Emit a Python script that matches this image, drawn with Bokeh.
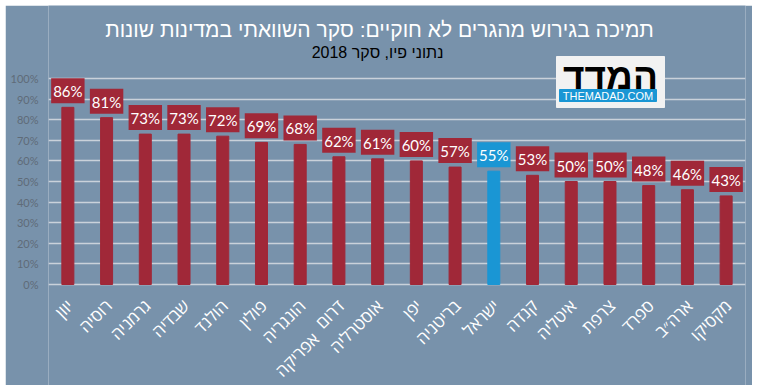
import math
from bokeh.plotting import figure
from bokeh.models import ColumnDataSource, FixedTicker, Range1d, FactorRange, Label, PrintfTickFormatter
from bokeh.core.properties import value
from bokeh.embed import file_html
from bokeh.resources import INLINE

# ---- data ----
countries = ["יוון", "רוסיה", "גרמניה", "שבדיה", "הולנד", "פולין", "הונגריה",
             "דרום אפריקה", "אוסטרליה", "יפן", "בריטניה", "ישראל", "קנדה",
             "איטליה", "צרפת", "ספרד", "ארה״ב", "מקסיקו"]
support = [86, 81, 73, 73, 72, 69, 68, 62, 61, 60, 57, 55, 53, 50, 50, 48, 46, 43]
highlight = "ישראל"
y_ticks = [0, 10, 20, 30, 40, 50, 60, 70, 80, 90, 100]

title_text = "תמיכה בגירוש מהגרים לא חוקיים: סקר השוואתי במדינות שונות"
subtitle_text = "נתוני פיו, סקר 2018"
logo_text = "המדד"
logo_url = "THEMADAD.COM"

# ---- styles / layout ----
BG = "#7892ab"
RED = "#a02838"
BLUE = "#1a96d4"
GRID = "#c9d1da"

FX, FY = 5, 5            # figure position on the page (via margin)
W, H = 747, 380
FRAME_L, FRAME_R = 48, 745   # page px of frame edges
ZERO_Y = 284                 # page px of 0%
PX_PER_PCT = 2.06
ML = FRAME_L - FX
MR = FX + W - FRAME_R
cat_w = (FRAME_R - FRAME_L) / len(countries)
y_start = -(FY + H - ZERO_Y) / PX_PER_PCT
y_end = (ZERO_Y - FY) / PX_PER_PCT

def dx(px):
    return (px - FRAME_L) / cat_w

def dy(py):
    return (ZERO_Y - py) / PX_PER_PCT

colors = [BLUE if c == highlight else RED for c in countries]
labels = [f"{v}%" for v in support]
line1 = [c.split(" ")[0] for c in countries]
zeros = [0] * len(countries)

src = ColumnDataSource(dict(country=countries, support=support, color=colors,
                            label=labels, line1=line1, zero=zeros))
two = [(c, " ".join(c.split(" ")[1:])) for c in countries if " " in c]
src2 = ColumnDataSource(dict(country=[t[0] for t in two], line2=[t[1] for t in two],
                             zero=[0] * len(two)))

def subset(keep):
    idx = [i for i, c in enumerate(countries) if keep(c)]
    return ColumnDataSource(dict(country=[countries[i] for i in idx],
                                 support=[support[i] for i in idx],
                                 label=[labels[i] for i in idx]))

red_src = subset(lambda c: c != highlight)
blue_src = subset(lambda c: c == highlight)

p = figure(width=W, height=H, x_range=FactorRange(factors=countries),
           y_range=Range1d(y_start, y_end), output_backend="svg", toolbar_location=None,
           min_border_left=ML, min_border_right=MR, min_border_top=0, min_border_bottom=0)
p.margin = (FY, 6, 7, FX)
p.background_fill_color = BG
p.border_fill_color = BG
p.outline_line_color = None

p.xaxis.visible = False
p.xgrid.grid_line_color = None
p.ygrid.grid_line_color = GRID
p.ygrid.grid_line_width = 1.5
p.yaxis.ticker = FixedTicker(ticks=y_ticks)
p.yaxis.formatter = PrintfTickFormatter(format="%d%%")
p.yaxis.axis_line_color = None
p.yaxis.major_tick_line_color = None
p.yaxis.minor_tick_line_color = None
p.yaxis.major_tick_out = 0
p.yaxis.major_tick_in = 0
p.yaxis.major_label_standoff = 10
p.yaxis.major_label_text_color = "#5f6b78"
p.yaxis.major_label_text_font = "Lato"
p.yaxis.major_label_text_font_size = "11px"

p.vbar(x="country", top="support", width=0.31, color="color", source=src)

# value labels in boxes
for s, c in ((red_src, RED), (blue_src, BLUE)):
    p.text(x="country", y="support", text="label", source=s,
           text_align="center", text_baseline="bottom", y_offset=-4,
           text_color="white", text_font=value("Lato"), text_font_size="15px",
           background_fill_color=c,
           padding=dict(left=2, right=2, top=4, bottom=3))

# category labels (rotated)
p.text(x="country", y="zero", text="line1", source=src, angle=math.pi / 4,
       text_align="right", text_baseline="middle", x_offset=2, y_offset=18,
       text_color="white", text_font=value("Open Sans"), text_font_size="17px")
p.text(x="country", y="zero", text="line2", source=src2, angle=math.pi / 4,
       text_align="right", text_baseline="middle", x_offset=-23, y_offset=51,
       text_color="white", text_font=value("Open Sans"), text_font_size="17px")

# title & subtitle
p.add_layout(Label(x=dx(379), y=dy(29), text=title_text, text_align="center",
                   text_baseline="alphabetic", text_color="white",
                   text_font="Liberation Sans", text_font_size="21px"))
p.add_layout(Label(x=dx(377), y=dy(52), text=subtitle_text, text_align="center",
                   text_baseline="alphabetic", text_color="black",
                   text_font="Liberation Sans", text_font_size="16px"))

# logo
p.quad(left=dx(556), right=dx(664), top=dy(56), bottom=dy(107), color="#f2f2f2")
p.quad(left=dx(559), right=dx(656), top=dy(89), bottom=dy(101), color=BLUE)
p.add_layout(Label(x=dx(610), y=dy(76), text=logo_text, text_align="center",
                   text_baseline="alphabetic", text_color="black",
                   text_font="Liberation Sans", text_font_size="37px", text_font_style="bold"))
p.add_layout(Label(x=dx(607.5), y=dy(95), text=logo_url, text_align="center",
                   text_baseline="middle", text_color="white",
                   text_font="Liberation Sans", text_font_size="11px"))

open("out.html", "w").write(file_html(p, INLINE))
